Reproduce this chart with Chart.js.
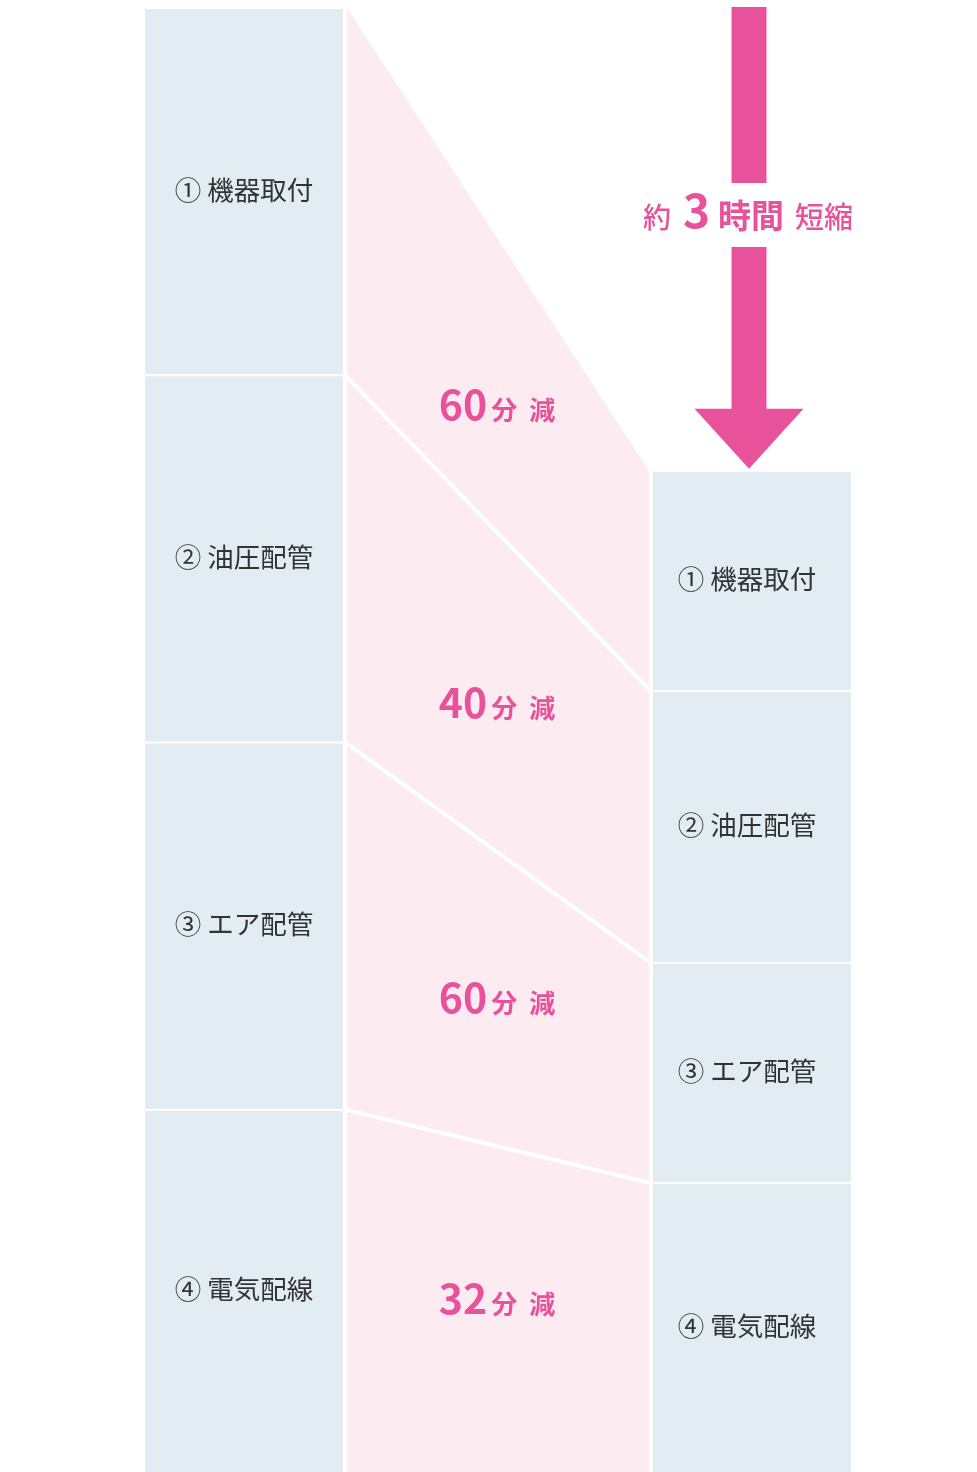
<!DOCTYPE html>
<html lang="ja">
<head>
<meta charset="utf-8">
<script src="https://cdn.jsdelivr.net/npm/chart.js@4.4.1/dist/chart.umd.min.js"></script>
<style>
  html, body { margin: 0; padding: 0; background: #fff; }
  #wrap { width: 977px; height: 1472px; position: relative; }
</style>
</head>
<body>
<div id="wrap"><canvas id="chart"></canvas></div>
<script>
// work steps, minutes before / after, and the time saved per step
const tasks = ['① 機器取付', '② 油圧配管', '③ エア配管', '④ 電気配線']
const beforeMin = [150, 150, 150, 150]
const afterMin = [90, 111, 90, 120]
const savedMin = [60, 40, 60, 32]
const columns = ['before', '', 'after']
const headline = ['約', '3', '時間', '短縮']

const PINK = '#e8529a'
const PINK_BG = '#fcecf2'
const BAR_BG = '#e2ecf3'
const JP = '"Noto Sans CJK JP", "Noto Sans", sans-serif'

// stacked bars go bottom-up, so step ④ is the first dataset
const order = tasks.map((t, i) => i).reverse()

const datasets = order.map(i => ({
  label: tasks[i],
  data: [beforeMin[i], null, afterMin[i]],
  backgroundColor: BAR_BG,
  borderColor: '#ffffff',
  borderWidth: { top: 1, bottom: 1, left: 0, right: 0 },
  borderSkipped: false,
  categoryPercentage: 1,
  barPercentage: 0.78
}))

// find bar elements of step i
function barsOf(chart, i) {
  const meta = chart.getDatasetMeta(order.indexOf(i))
  return { left: meta.data[0], right: meta.data[2] }
}

function corners(chart, i) {
  const { left, right } = barsOf(chart, i)
  const bottom = chart.chartArea.bottom
  return {
    xL: left.x + left.width / 2 + 4,
    xR: right.x - right.width / 2 - 4,
    lTop: left.y, lBot: Math.min(left.base, bottom),
    rTop: right.y, rBot: Math.min(right.base, bottom)
  }
}

const labelNudge = [19, 10, -2, -10]

const flowPlugin = {
  id: 'flow',
  beforeDatasetsDraw(chart) {
    const ctx = chart.ctx
    ctx.save()
    tasks.forEach((t, i) => {
      const c = corners(chart, i)
      ctx.fillStyle = PINK_BG
      ctx.beginPath()
      ctx.moveTo(c.xL, c.lTop)
      ctx.lineTo(c.xR, c.rTop)
      ctx.lineTo(c.xR, c.rBot)
      ctx.lineTo(c.xL, c.lBot)
      ctx.closePath()
      ctx.fill()
    })
    // white dividers between the steps
    ctx.strokeStyle = '#ffffff'
    ctx.lineWidth = 4
    tasks.slice(0, -1).forEach((t, i) => {
      const c = corners(chart, i)
      ctx.beginPath()
      ctx.moveTo(c.xL - 2, c.lBot)
      ctx.lineTo(c.xR + 2, c.rBot)
      ctx.stroke()
    })
    ctx.restore()
  },
  afterDatasetsDraw(chart) {
    const ctx = chart.ctx
    const area = chart.chartArea
    ctx.save()

    // step names inside the bars
    ctx.fillStyle = '#333333'
    ctx.font = '26.5px ' + JP
    ctx.textAlign = 'center'
    ctx.textBaseline = 'middle'
    tasks.forEach((t, i) => {
      const { left, right } = barsOf(chart, i)
      ;[[left, 0], [right, -5]].forEach(([b, dx]) => {
        const yc = (b.y + Math.min(b.base, area.bottom)) / 2 - 2
        ctx.fillText(t, b.x + dx, yc)
      })
    })

    // "xx分 減" in the connectors
    ctx.textAlign = 'left'
    ctx.textBaseline = 'alphabetic'
    ctx.fillStyle = PINK
    tasks.forEach((t, i) => {
      const c = corners(chart, i)
      const cy = (c.lTop + c.lBot + c.rTop + c.rBot) / 4 + labelNudge[i]
      const cx = (c.xL + c.xR) / 2
      const parts = [
        { s: String(savedMin[i]), f: 'bold 41px ' + JP, gap: 4 },
        { s: '分', f: 'bold 26px ' + JP, gap: 12 },
        { s: '減', f: 'bold 26px ' + JP, gap: 0 }
      ]
      let total = 0
      parts.forEach(p => { ctx.font = p.f; p.w = ctx.measureText(p.s).width; total += p.w + p.gap })
      let x = cx - total / 2 - 1
      parts.forEach(p => { ctx.font = p.f; ctx.fillText(p.s, x, cy + 15); x += p.w + p.gap })
    })

    // arrow down to the shorter bar
    const { right } = barsOf(chart, 0)
    const ax = right.x - 3
    const tip = right.y - 2
    const headH = 60, headW = 109, shaftW = 35
    const textY = 215, gapHalf = 32
    ctx.fillStyle = PINK
    ctx.fillRect(ax - shaftW / 2, area.top - 1, shaftW, textY - gapHalf - area.top + 1)
    ctx.fillRect(ax - shaftW / 2, textY + gapHalf, shaftW, tip - headH - textY - gapHalf + 1)
    ctx.beginPath()
    ctx.moveTo(ax - headW / 2, tip - headH)
    ctx.lineTo(ax + headW / 2, tip - headH)
    ctx.lineTo(ax, tip)
    ctx.closePath()
    ctx.fill()

    // headline "約 3時間 短縮"
    const hp = [
      { s: headline[0], f: '500 28px ' + JP, gap: 12 },
      { s: headline[1], f: 'bold 46px ' + JP, gap: 8 },
      { s: headline[2], f: 'bold 33px ' + JP, gap: 11 },
      { s: headline[3], f: '500 29px ' + JP, gap: 0 }
    ]
    let tw = 0
    hp.forEach(p => { ctx.font = p.f; p.w = ctx.measureText(p.s).width; tw += p.w + p.gap })
    let hx = ax - tw / 2 - 1
    hp.forEach(p => { ctx.font = p.f; ctx.fillText(p.s, hx, textY + 13); hx += p.w + p.gap })

    ctx.restore()
  }
}

new Chart(document.getElementById('chart'), {
  type: 'bar',
  data: { labels: columns, datasets },
  options: {
    responsive: true,
    maintainAspectRatio: false,
    animation: false,
    layout: { padding: { left: 117, right: 98, top: 8, bottom: 0 } },
    plugins: {
      legend: { display: false },
      tooltip: { enabled: false }
    },
    scales: {
      x: { stacked: true, display: false, offset: true },
      y: { stacked: true, display: false, min: 2, max: 600 }
    }
  },
  plugins: [flowPlugin]
})
</script>
</body>
</html>
